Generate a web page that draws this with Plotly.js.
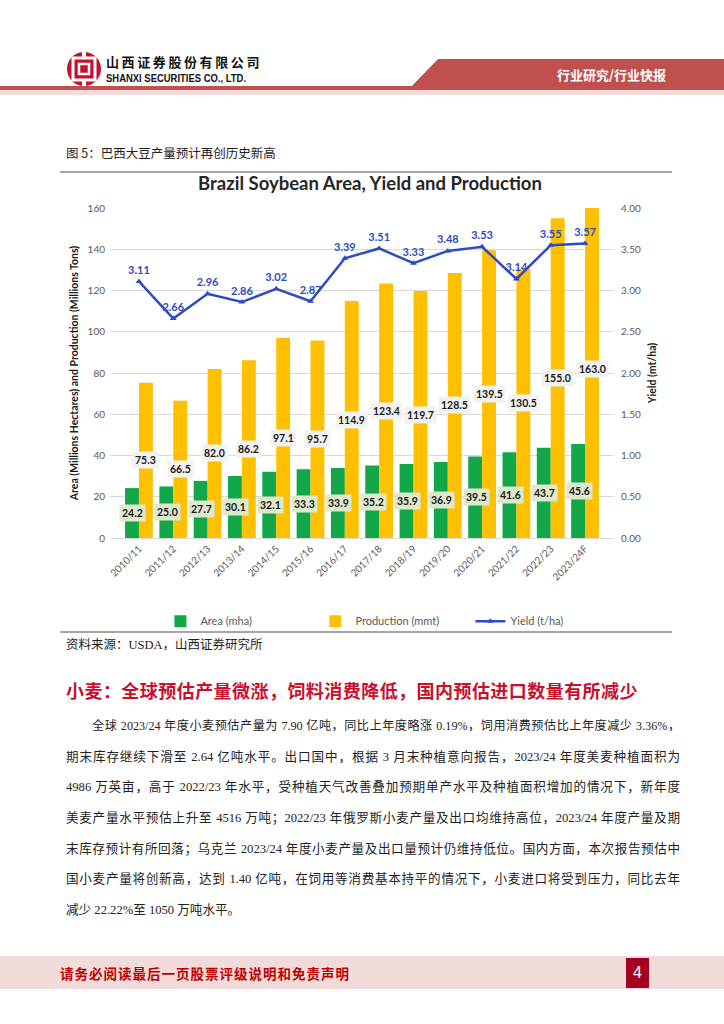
<!DOCTYPE html>
<html>
<head>
<meta charset="utf-8">
<script src="https://cdn.plot.ly/plotly-3.0.1.min.js"></script>
<style>
  html, body { margin:0; padding:0; background:#fff; }
  #page { position:relative; width:724px; height:1024px; overflow:hidden; background:#fff;
          font-family:"Liberation Serif","Noto Sans CJK SC",serif; color:#111; }
  .abs { position:absolute; white-space:nowrap; }
  .cn { font-family:"Noto Sans CJK SC",sans-serif; }
  .para { position:absolute; left:66px; width:614px; height:20px; line-height:20px; font-size:12.6px;
          text-align:justify; text-align-last:justify; text-justify:inter-character; white-space:normal; color:#222;
          font-family:"Liberation Serif","Noto Sans CJK SC",serif; overflow:visible; }
</style>
</head>
<body>
<div id="page">
  <!-- header -->
  <svg class="abs" style="left:0;top:0" width="724" height="100">
    <polygon points="438,59 724,59 724,90 408,90" fill="#c0504d"/>
    <rect x="0" y="86" width="724" height="4" fill="#c0504d"/>
    <rect x="0" y="90" width="724" height="5" fill="#f2dcdb"/>
    <g transform="translate(84,69)">
      <circle r="17" fill="#c8102e"/>
      <rect x="-11" y="-11" width="22" height="22" fill="none" stroke="#fff" stroke-width="3"/>
      <rect x="-5" y="-5" width="10" height="10" fill="none" stroke="#fff" stroke-width="2.5"/>
      <rect x="-2" y="-17" width="4" height="7" fill="#fff"/>
      <rect x="-2" y="10" width="4" height="7" fill="#fff"/>
    </g>
  </svg>
  <div class="abs cn" style="left:106px;top:53px;font-size:13px;font-weight:700;letter-spacing:2.6px;line-height:18px;color:#111;">山西证券股份有限公司</div>
  <div class="abs" style="left:106px;top:72px;font-family:'Liberation Sans',sans-serif;font-size:10.5px;font-weight:700;line-height:13px;color:#111;transform:scaleX(0.9);transform-origin:left center;">SHANXI SECURITIES CO., LTD.</div>
  <div class="abs cn" style="left:557px;top:66px;font-size:13px;font-weight:700;line-height:18px;color:#fff;">行业研究/行业快报</div>

  <!-- figure caption -->
  <div class="abs cn" style="left:66px;top:144px;font-size:12.5px;line-height:18px;color:#222;">图 5：巴西大豆产量预计再创历史新高</div>
  <div class="abs" style="left:60px;top:171px;width:612px;height:2px;background:#a6a6a6;"></div>

  <div id="chart" class="abs" style="left:40px;top:172px;width:660px;height:500px;"></div>

  <div class="abs" style="left:60px;top:631px;width:612px;height:2px;background:#a6a6a6;"></div>
  <div class="abs" style="left:66px;top:636px;font-size:12.5px;line-height:18px;color:#222;">资料来源：USDA，山西证券研究所</div>

  <!-- section title -->
  <div class="abs cn" style="left:66px;top:678px;font-size:18px;font-weight:700;letter-spacing:0.45px;line-height:24px;color:#c8102e;">小麦：全球预估产量微涨，饲料消费降低，国内预估进口数量有所减少</div>

  <!-- paragraph -->
  <div class="para" style="top:716px;left:92px;width:588px;font-size:12.1px;">全球 2023/24 年度小麦预估产量为 7.90 亿吨，同比上年度略涨 0.19%，饲用消费预估比上年度减少 3.36%，</div>
  <div class="para" style="top:747px;">期末库存继续下滑至 2.64 亿吨水平。出口国中，根据 3 月末种植意向报告，2023/24 年度美麦种植面积为</div>
  <div class="para" style="top:777px;">4986 万英亩，高于 2022/23 年水平，受种植天气改善叠加预期单产水平及种植面积增加的情况下，新年度</div>
  <div class="para" style="top:808px;">美麦产量水平预估上升至 4516 万吨；2022/23 年俄罗斯小麦产量及出口均维持高位，2023/24 年度产量及期</div>
  <div class="para" style="top:839px;">末库存预计有所回落；乌克兰 2023/24 年度小麦产量及出口量预计仍维持低位。国内方面，本次报告预估中</div>
  <div class="para" style="top:869px;">国小麦产量将创新高，达到 1.40 亿吨，在饲用等消费基本持平的情况下，小麦进口将受到压力，同比去年</div>
  <div class="para" style="top:900px;text-align:left;text-align-last:left;">减少 22.22%至 1050 万吨水平。</div>

  <!-- footer -->
  <div class="abs" style="left:0;top:956px;width:724px;height:33px;background:#f2dcdb;"></div>
  <div class="abs cn" style="left:60px;top:963px;font-size:13.5px;font-weight:700;letter-spacing:1px;line-height:20px;color:#c00000;">请务必阅读最后一页股票评级说明和免责声明</div>
  <div class="abs" style="left:626px;top:958px;width:23px;height:30px;background:#a50021;color:#fff;font-family:'Liberation Sans',sans-serif;font-size:16px;line-height:30px;text-align:center;">4</div>
</div>

<script>
const categories = ["2010/11","2011/12","2012/13","2013/14","2014/15","2015/16","2016/17","2017/18","2018/19","2019/20","2020/21","2021/22","2022/23","2023/24F"];
const areaValues = [24.2,25.0,27.7,30.1,32.1,33.3,33.9,35.2,35.9,36.9,39.5,41.6,43.7,45.6];
const productionValues = [75.3,66.5,82.0,86.2,97.1,95.7,114.9,123.4,119.7,128.5,139.5,130.5,155.0,163.0];
const yieldValues = [3.11,2.66,2.96,2.86,3.02,2.87,3.39,3.51,3.33,3.48,3.53,3.14,3.55,3.57];
const leftTicks = [0,20,40,60,80,100,120,140,160];
const rightTicks = [0,0.5,1,1.5,2,2.5,3,3.5,4];
const seriesNames = ["Area (mha)","Production (mmt)","Yield (t/ha)"];

const GREEN = "#12a84a", GOLD = "#ffc000", BLUE = "#2e4bbf";
const FONT = "Lato, 'Open Sans', sans-serif";

const traces = [
  { type:"bar", name:seriesNames[0], x:categories, y:areaValues, marker:{color:GREEN}, hoverinfo:"skip" },
  { type:"bar", name:seriesNames[1], x:categories, y:productionValues, marker:{color:GOLD}, hoverinfo:"skip" },
  { type:"scatter", name:seriesNames[2], x:categories, y:yieldValues, yaxis:"y2",
    mode:"lines+markers+text", text:yieldValues.map(v=>v.toFixed(2)), textposition:"top center",
    textfont:{family:FONT, size:11, color:BLUE, weight:"bold"},
    line:{color:BLUE, width:2.5}, marker:{symbol:"triangle-up", size:6, color:BLUE}, cliponaxis:false, hoverinfo:"skip" }
];

const annotations = [];
categories.forEach((c,i)=>{
  annotations.push({ x:c, y:areaValues[i]/2, xref:"x", yref:"y", xshift:-6, text:areaValues[i].toFixed(1),
    showarrow:false, bgcolor:"#dde8cc", borderpad:2, font:{family:FONT, size:10.5, color:"#1a1a1a", weight:"bold"} });
  annotations.push({ x:c, y:Math.min(productionValues[i],160)/2 + (productionValues[i]>160?1.7:0), xref:"x", yref:"y", xshift:7, text:productionValues[i].toFixed(1),
    showarrow:false, bgcolor:"#f2f2f2", borderpad:2, font:{family:FONT, size:10.5, color:"#1a1a1a", weight:"bold"} });
});

const layout = {
  width:660, height:500,
  margin:{l:70, r:86, t:36, b:134, pad:0, autoexpand:false},
  paper_bgcolor:"rgba(0,0,0,0)", plot_bgcolor:"rgba(0,0,0,0)",
  title:{ text:"Brazil Soybean Area, Yield and Production", x:0.5, xref:"container", xanchor:"center",
          y:1-12/500, yref:"container", yanchor:"middle",
          font:{family:FONT, size:18.5, color:"#262626", weight:"bold"} },
  barmode:"group", bargap:0.19, bargroupgap:0,
  xaxis:{ type:"category", tickangle:-45, tickfont:{family:FONT, size:10, color:"#595959"},
          showline:true, linecolor:"#d9d9d9", linewidth:1, ticks:"", showgrid:false, fixedrange:true, automargin:false },
  yaxis:{ range:[0,160], tickvals:leftTicks, ticktext:leftTicks.map(String), showgrid:true, gridcolor:"#d9d9d9", gridwidth:1,
          zeroline:false, ticks:"", tickfont:{family:FONT, size:10, color:"#595959"}, ticklabelstandoff:4, automargin:false,
          title:{ text:"Area (Millions Hectares) and Production (Millions Tons)", standoff:6,
                  font:{family:FONT, size:10.5, color:"#1a1a1a", weight:"bold"} } },
  yaxis2:{ range:[0,4], overlaying:"y", side:"right", tickvals:rightTicks, ticktext:rightTicks.map(v=>v.toFixed(2)),
           showgrid:false, zeroline:false, ticks:"", tickfont:{family:FONT, size:10, color:"#595959"}, ticklabelstandoff:6, automargin:false,
           title:{ text:"Yield (mt/ha)", standoff:8, font:{family:FONT, size:10.5, color:"#1a1a1a", weight:"bold"} } },
  showlegend:true,
  legend:{ orientation:"h", x:0.1, xanchor:"left", y:-0.252, yanchor:"middle", traceorder:"normal",
           entrywidth:110, entrywidthmode:"pixels",
           font:{family:FONT, size:11, color:"#595959"}, bgcolor:"rgba(0,0,0,0)" },
  annotations: annotations
};

Plotly.newPlot("chart", traces, layout, {staticPlot:true, displayModeBar:false});
</script>
</body>
</html>
